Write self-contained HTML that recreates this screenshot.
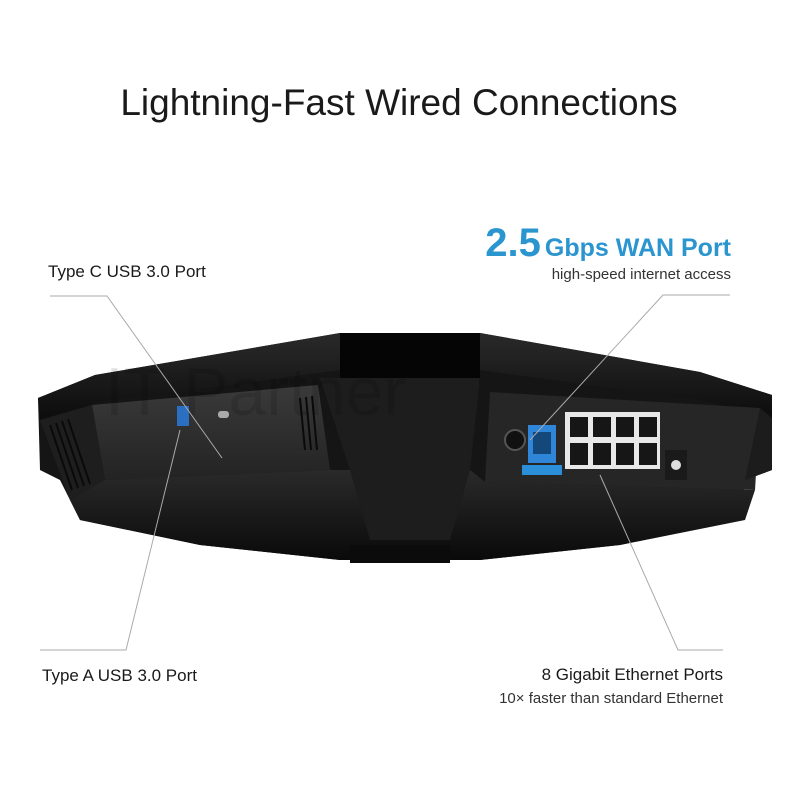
<!DOCTYPE html>
<html><head><meta charset="utf-8"><style>
html,body{margin:0;padding:0;background:#fff}
svg{display:block}
text{font-family:"Liberation Sans",sans-serif}
</style></head><body>
<svg width="799" height="800" viewBox="0 0 799 800" xmlns="http://www.w3.org/2000/svg">
<defs>
<linearGradient id="lid" x1="0" y1="0" x2="0" y2="1"><stop offset="0" stop-color="#2a2a2a"/><stop offset="1" stop-color="#0c0c0c"/></linearGradient>
<linearGradient id="panel" x1="0" y1="0" x2="0" y2="1"><stop offset="0" stop-color="#3a3a3a"/><stop offset="1" stop-color="#232323"/></linearGradient>
<linearGradient id="skirt" x1="0" y1="0" x2="0" y2="1"><stop offset="0" stop-color="#2a2a2a"/><stop offset="1" stop-color="#0a0a0a"/></linearGradient>
</defs>
<text x="399" y="115" font-size="37" text-anchor="middle" fill="#1a1a1a">Lightning-Fast Wired Connections</text>
<text x="731" y="256" font-size="40" font-weight="bold" text-anchor="end" fill="#2a95cf"><tspan>2.5</tspan><tspan font-size="25" dx="4">Gbps WAN Port</tspan></text>
<text x="731" y="279" font-size="15" text-anchor="end" fill="#333">high-speed internet access</text>
<text x="48" y="277" font-size="17" fill="#1a1a1a">Type C USB 3.0 Port</text>
<text x="42" y="681" font-size="17" fill="#1a1a1a">Type A USB 3.0 Port</text>
<text x="723" y="680" font-size="17" text-anchor="end" fill="#1a1a1a">8 Gigabit Ethernet Ports</text>
<text x="723" y="703" font-size="15" text-anchor="end" fill="#333">10× faster than standard Ethernet</text>

<!-- router body -->
<polygon points="38,398 95,375 340,333 480,333 700,372 772,395 772,470 745,480 740,520 620,545 480,560 340,560 200,545 80,520 60,480 40,470" fill="#151515"/>
<!-- lid -->
<polygon points="38,398 95,375 340,333 480,333 700,372 772,395 772,418 700,400 480,370 400,380 340,370 100,402 40,420" fill="url(#lid)"/>
<rect x="340" y="333" width="140" height="50" fill="#050505"/>
<!-- center column -->
<polygon points="320,378 480,378 470,470 450,540 370,540 350,470" fill="#1d1d1d"/>
<!-- left panel -->
<polygon points="92,405 318,385 330,470 105,480" fill="url(#panel)"/>
<polygon points="40,420 92,405 105,480 70,500" fill="#1e1e1e"/>
<g stroke="#0a0a0a" stroke-width="2">
<line x1="50" y1="425" x2="72" y2="490"/><line x1="56" y1="423" x2="78" y2="488"/><line x1="62" y1="421" x2="84" y2="486"/><line x1="68" y1="419" x2="90" y2="484"/>
<line x1="300" y1="398" x2="305" y2="450"/><line x1="306" y1="397" x2="311" y2="450"/><line x1="312" y1="396" x2="317" y2="450"/>
</g>
<rect x="177" y="406" width="12" height="20" fill="#2b6fc2"/>
<rect x="218" y="411" width="11" height="7" rx="3" fill="#aaa"/>
<!-- right panel -->
<polygon points="490,392 760,408 755,490 485,482" fill="#262626"/>
<rect x="565" y="412" width="95" height="57" fill="#e8e8e8"/>
<g fill="#161616">
<rect x="570" y="417" width="18" height="20"/><rect x="593" y="417" width="18" height="20"/><rect x="616" y="417" width="18" height="20"/><rect x="639" y="417" width="18" height="20"/>
<rect x="570" y="443" width="18" height="22"/><rect x="593" y="443" width="18" height="22"/><rect x="616" y="443" width="18" height="22"/><rect x="639" y="443" width="18" height="22"/>
</g>
<rect x="528" y="425" width="28" height="38" fill="#2f86d8"/>
<rect x="533" y="432" width="18" height="22" fill="#14487a"/>
<rect x="522" y="465" width="40" height="10" fill="#2a8fd8"/>
<circle cx="515" cy="440" r="10" fill="#111" stroke="#555" stroke-width="2"/>
<rect x="665" y="450" width="22" height="30" fill="#1a1a1a"/>
<circle cx="676" cy="465" r="5" fill="#ddd"/>
<polygon points="760,408 772,418 772,470 745,480" fill="#1c1c1c"/>
<!-- skirt -->
<polygon points="70,500 105,480 330,470 350,470 370,540 450,540 470,470 485,482 755,490 745,520 620,545 480,560 340,560 200,545 80,520" fill="url(#skirt)"/>
<rect x="350" y="545" width="100" height="18" fill="#0b0b0b"/>
<!-- watermark -->
<text x="105" y="415" font-size="68" fill="#000" fill-opacity="0.12">IT Partner</text>
<!-- leader lines -->
<g stroke="#aaa" stroke-width="1" fill="none">
<polyline points="50,296 107,296 222,458"/>
<polyline points="40,650 126,650 180,430"/>
<polyline points="730,295 663,295 530,440"/>
<polyline points="600,475 678,650 723,650"/>
</g>
</svg>
</body></html>
